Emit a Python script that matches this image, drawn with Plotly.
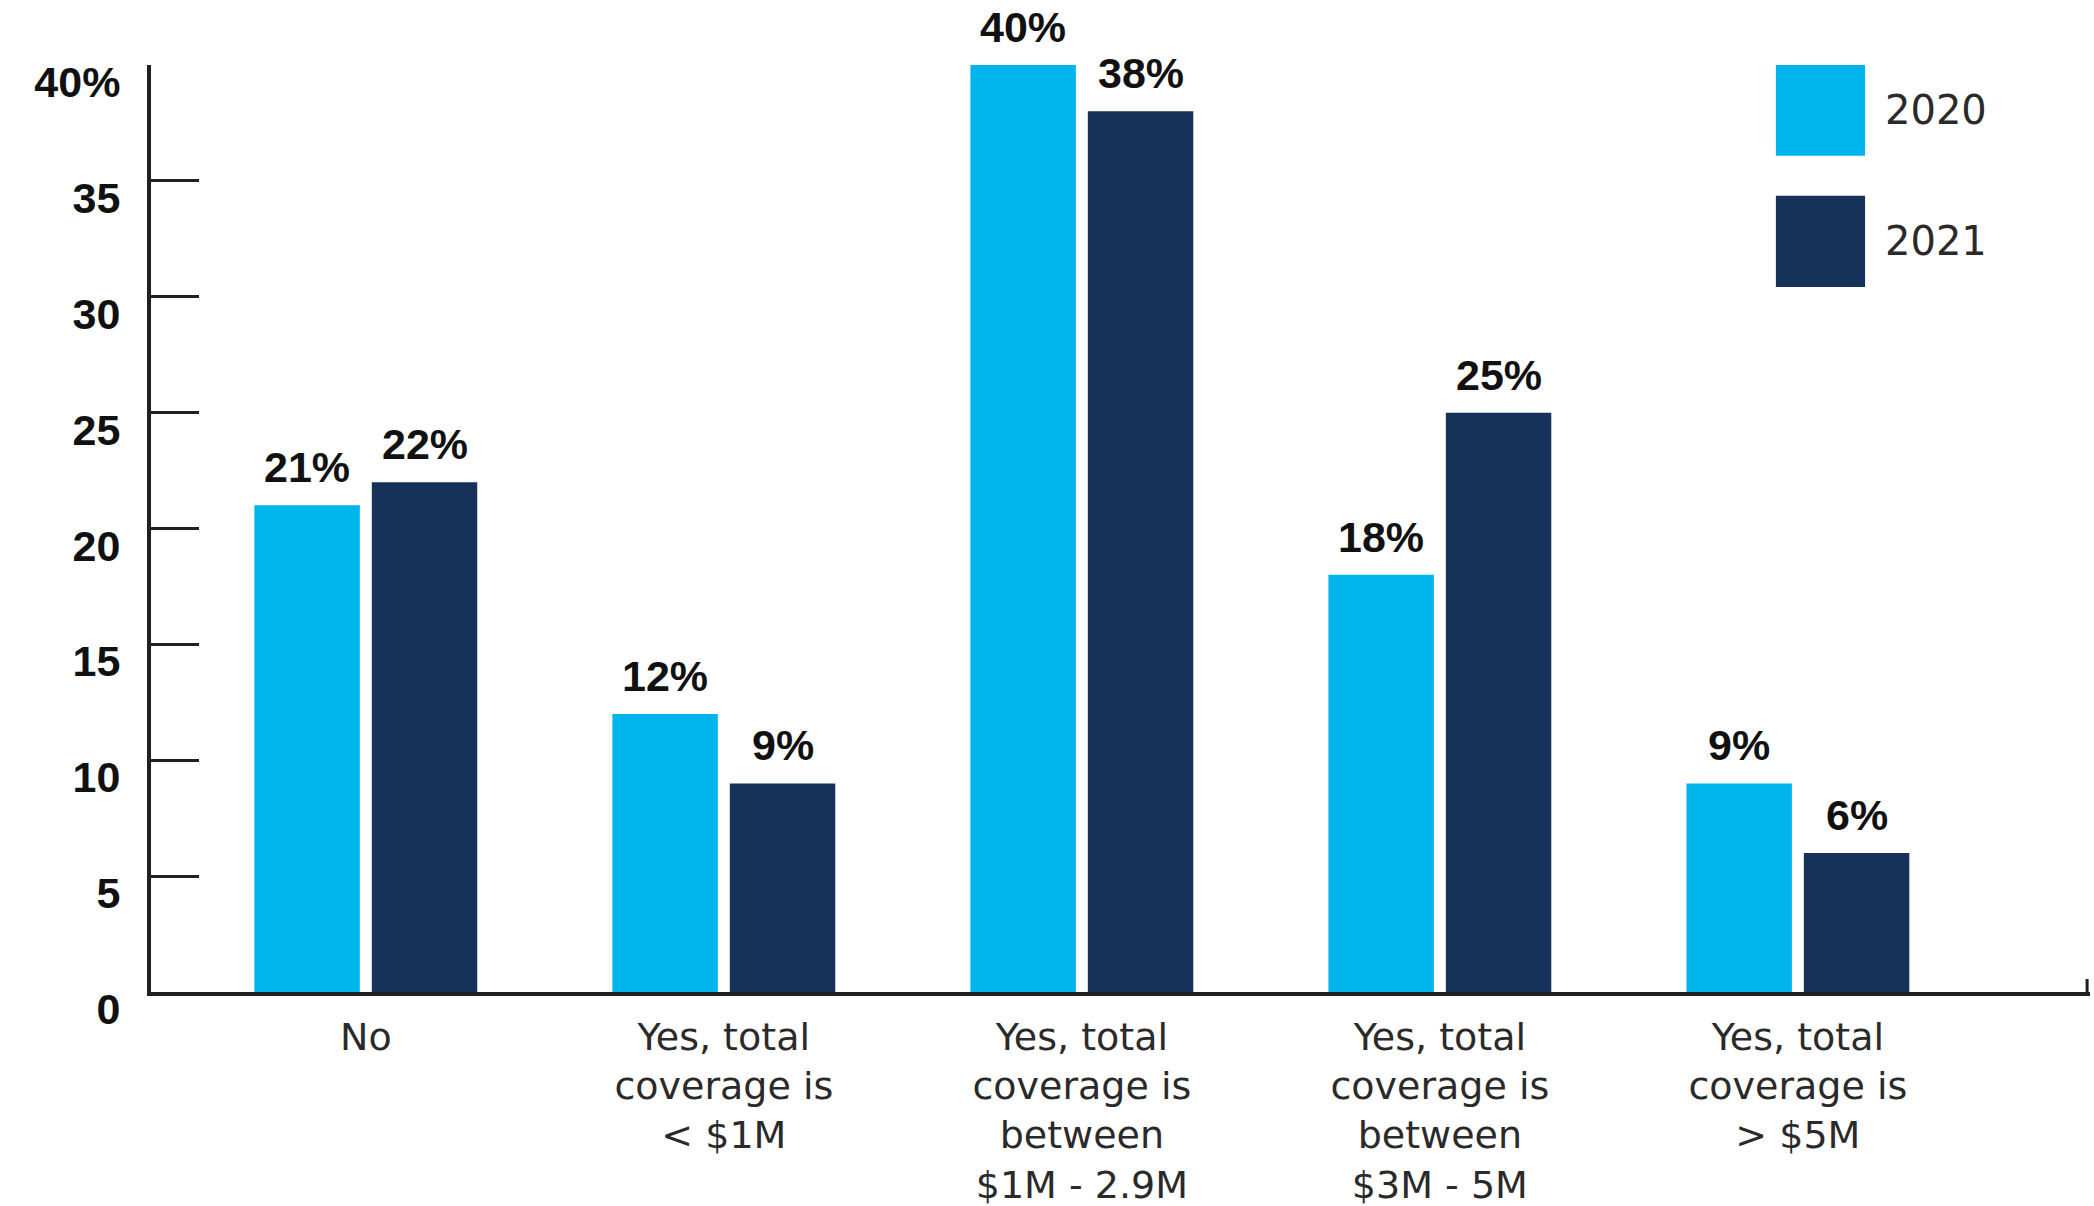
import plotly.graph_objects as go

categories = ["No", "Yes, total coverage is < $1M", "Yes, total coverage is between $1M - 2.9M",
              "Yes, total coverage is between $3M - 5M", "Yes, total coverage is > $5M"]
tick_labels = ["No",
               "Yes, total<br>coverage is<br>&lt; $1M",
               "Yes, total<br>coverage is<br>between<br>$1M - 2.9M",
               "Yes, total<br>coverage is<br>between<br>$3M - 5M",
               "Yes, total<br>coverage is<br>&gt; $5M"]
series_names = ["2020", "2021"]
values_2020 = [21, 12, 40, 18, 9]
values_2021 = [22, 9, 38, 25, 6]
y_tickvals = [0, 5, 10, 15, 20, 25, 30, 35, 40]
y_ticktext = ["0", "5", "10", "15", "20", "25", "30", "35", "40%"]

colors = ["#00b4ec", "#17325a"]
axis_color = "#231f20"
label_font = dict(family="Liberation Sans, Arial, sans-serif", size=43, color="#111111", weight="bold")
text_font = dict(family="DejaVu Sans, sans-serif", size=38, color="#2a2a2a")

x_idx = list(range(len(categories)))

fig = go.Figure()
for name, vals, col in zip(series_names, [values_2020, values_2021], colors):
    fig.add_trace(go.Bar(
        x=x_idx, y=vals, name=name, marker=dict(color=col, line=dict(width=0)),
        showlegend=False,
    ))

bargap = 0.344
bargroupgap = 0.102
slot = (1 - bargap) / 2
annotations = []
for k, vals in enumerate([values_2020, values_2021]):
    off = (k - 0.5) * slot
    for i, v in enumerate(vals):
        annotations.append(dict(
            x=i + off, y=v, xref="x", yref="y", text=f"{v}%", showarrow=False,
            yanchor="bottom", xanchor="center", yshift=12, font=label_font,
        ))

# manual legend (large swatches)
legend_y = [(1.0, 0.902), (0.859, 0.7605)]
for (y1, y0), name, col in zip(legend_y, series_names, colors):
    fig.add_shape(type="rect", xref="paper", yref="paper", x0=0.838, x1=0.884, y0=y0, y1=y1,
                  fillcolor=col, line=dict(width=0))
    annotations.append(dict(
        x=0.893, y=(y0 + y1) / 2, xref="paper", yref="paper", text=name, showarrow=False,
        xanchor="left", yanchor="middle",
        font=dict(family="DejaVu Sans, sans-serif", size=40, color="#2a2a2a"),
    ))

# small end tick on x axis line
fig.add_shape(type="line", xref="paper", yref="paper", x0=0.9985, x1=0.9985, y0=0, y1=0.014,
              line=dict(color=axis_color, width=3))

fig.update_layout(
    width=2094, height=1206,
    margin=dict(l=151, r=4, t=65, b=214),
    paper_bgcolor="white", plot_bgcolor="white",
    barmode="group", bargap=bargap, bargroupgap=bargroupgap,
    annotations=annotations,
    xaxis=dict(
        range=[-0.6, 4.816], tickmode="array", tickvals=x_idx, ticktext=tick_labels,
        showline=True, linecolor=axis_color, linewidth=4, showgrid=False, zeroline=False,
        ticks="", ticklabelstandoff=8, automargin=False,
        tickfont=text_font,
    ),
    yaxis=dict(
        range=[0, 40], tickmode="array", tickvals=y_tickvals, ticktext=y_ticktext,
        showline=True, linecolor=axis_color, linewidth=4, showgrid=False, zeroline=False,
        ticks="inside", ticklen=48, tickwidth=3, tickcolor=axis_color,
        ticklabelstandoff=18, ticklabelshift=17, automargin=False,
        tickfont=label_font,
    ),
)

fig.write_html("out.html")
